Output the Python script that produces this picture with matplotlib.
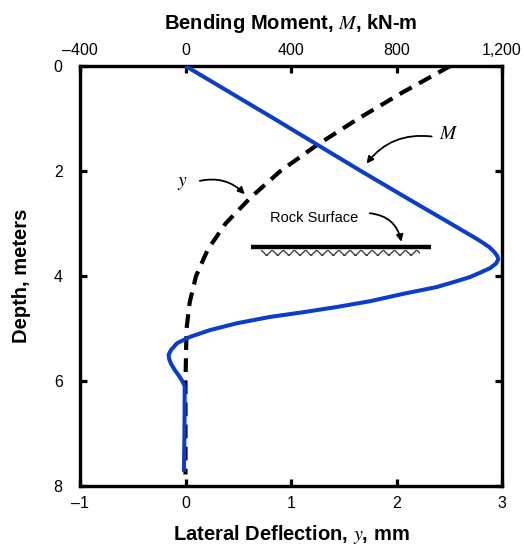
import matplotlib.pyplot as plt
from matplotlib.patches import Rectangle

plt.rcParams['font.family'] = ['Liberation Sans', 'DejaVu Sans']
plt.rcParams['mathtext.fontset'] = 'stix'

# Bending moment M (kN-m) vs depth (m)
m_depth = [0, 1.0, 2.0, 2.55, 3.0, 3.31, 3.45, 3.55, 3.62, 3.68, 3.76, 3.85,
           3.93, 4.02, 4.11, 4.21, 4.34, 4.48, 4.59, 4.69, 4.78, 4.90, 5.03,
           5.16, 5.28, 5.41, 5.5, 5.58, 5.67, 5.78, 5.9, 6.0, 6.1, 7.0, 7.73]
m_vals = [0, 335, 665, 851, 1005, 1110, 1152, 1172, 1182, 1186, 1178, 1155,
          1120, 1079, 1020, 953, 825, 700, 574, 446, 320, 195, 93,
          17, -32, -55, -64, -62, -55, -42, -25, -12, -3, -4, -6]

# Lateral deflection y (mm) vs depth (m)
y_depth = [0, 0.5, 1.0, 1.5, 2.0, 2.5, 3.0, 3.5, 4.0, 4.5, 5.0, 6.0, 7.78]
y_vals = [2.51, 2.06, 1.64, 1.25, 0.90, 0.62, 0.38, 0.21, 0.10, 0.04, 0.01, 0.0, 0.0]

bottom_ticks = [-1, 0, 1, 2, 3]
bottom_labels = ['\u20131', '0', '1', '2', '3']
top_ticks = [-400, 0, 400, 800, 1200]
top_labels = ['\u2013400', '0', '400', '800', '1,200']
depth_ticks = [0, 2, 4, 6, 8]

fig = plt.figure(figsize=(5.24, 5.46), dpi=100)
ax = fig.add_axes([80 / 524, 1 - 486 / 546, 422 / 524, 420 / 546])
ax.set_xlim(-1, 3)
ax.set_ylim(8, 0)

axt = ax.twiny()
axt.set_xlim(-400, 1200)

ax.plot(y_vals, y_depth, color='black', lw=3.0, linestyle=(0, (3.3, 2.0)),
        dash_capstyle='butt', zorder=3)
axt.plot(m_vals, m_depth, color='#0a3ccd', lw=2.9, solid_capstyle='butt',
         solid_joinstyle='round', zorder=4)

for a in (ax, axt):
    for s in a.spines.values():
        s.set_linewidth(2.3)

ax.set_xticks(bottom_ticks)
ax.set_xticklabels(bottom_labels)
ax.set_yticks(depth_ticks)
ax.tick_params(axis='both', direction='in', length=5, width=2.3, labelsize=11.5,
               right=True, pad=7)
ax.tick_params(axis='y', pad=12.5)
axt.set_xticks(top_ticks)
axt.set_xticklabels(top_labels)
axt.tick_params(axis='x', direction='in', length=5, width=2.3, labelsize=11.5, pad=6)

ax.set_xlabel('Lateral Deflection, $y$, mm', fontsize=14.5, fontweight='bold', labelpad=9)
ax.set_ylabel('Depth, meters', fontsize=14.5, fontweight='bold', labelpad=16)
axt.set_xlabel('Bending Moment, $M$, kN-m', fontsize=14.5, fontweight='bold', labelpad=10)

# rock surface
ax.plot([0.62, 2.33], [3.45, 3.45], color='black', lw=3.2, solid_capstyle='butt', zorder=2)
ax.add_patch(Rectangle((0.72, 3.5), 1.5, 0.12, hatch='xxx', fill=False,
                       edgecolor='#444444', lw=0, zorder=1))
ax.text(1.22, 2.90, 'Rock Surface', fontsize=10.5, ha='center', va='center')
ax.annotate('', xy=(2.05, 3.40), xytext=(1.72, 2.80),
            arrowprops=dict(arrowstyle='-|>', color='black', lw=1.3,
                            connectionstyle='arc3,rad=-0.4', mutation_scale=10))

# curve labels
ax.text(2.40, 1.31, '$M$', fontsize=14, ha='left', va='center')
ax.annotate('', xy=(1.70, 1.90), xytext=(2.36, 1.35),
            arrowprops=dict(arrowstyle='-|>', color='black', lw=1.3,
                            connectionstyle='arc3,rad=0.3', mutation_scale=10))
ax.text(-0.03, 2.23, '$y$', fontsize=14, ha='center', va='center')
ax.annotate('', xy=(0.58, 2.48), xytext=(0.11, 2.20),
            arrowprops=dict(arrowstyle='-|>', color='black', lw=1.3,
                            connectionstyle='arc3,rad=-0.3', mutation_scale=10))

fig.savefig('out.png', dpi=100)
